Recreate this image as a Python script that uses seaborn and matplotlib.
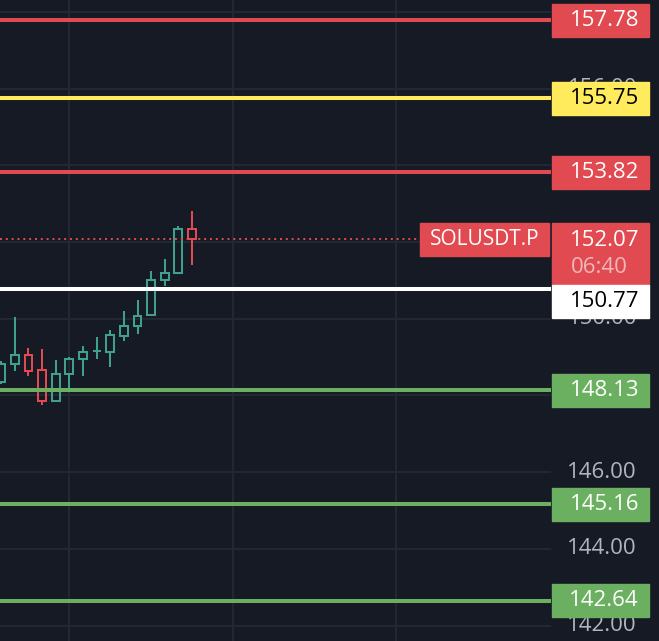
import numpy as np
import pandas as pd
import seaborn as sns
import matplotlib.pyplot as plt
from matplotlib.patches import Rectangle
from matplotlib import transforms

# candles (oldest -> newest)
opens  = [148.36, 148.81, 149.06, 148.66, 147.86, 148.55, 148.94, 149.16, 149.14, 149.54, 149.80, 150.09, 151.00, 151.19, 152.33]
highs  = [148.90, 150.05, 149.24, 149.21, 148.93, 149.00, 149.29, 149.53, 149.71, 150.20, 150.49, 151.25, 151.56, 152.42, 152.81]
lows   = [148.30, 148.64, 148.52, 147.75, 147.84, 148.10, 148.52, 148.95, 148.75, 149.43, 149.60, 150.09, 150.86, 151.19, 151.40]
closes = [148.82, 149.06, 148.64, 147.86, 148.55, 148.94, 149.13, 149.17, 149.57, 149.80, 150.07, 151.00, 151.19, 152.33, 152.07]

level_prices = [157.78, 155.75, 153.82, 150.77, 148.13, 145.16, 142.64]
level_colors = ['#e04a50', '#ffeb5c', '#e04a50', '#ffffff', '#6bb060', '#6bb060', '#6bb060']
level_text   = ['white', 'black', 'white', 'black', 'white', 'white', 'white']

grid_ticks = [142, 144, 146, 148, 150, 152, 154, 156, 158]
label_ticks = [142, 144, 146, 150, 156]   # the ones not fully hidden behind tags
symbol = 'SOLUSDT.P'
last_price = 152.07
countdown = '06:40'

BG = '#161a25'
GRID = '#232733'
UP = '#3fa08e'
DOWN = '#e04a50'

sns.set_theme(style='dark', rc={'axes.facecolor': BG, 'figure.facecolor': BG})
plt.rcParams['font.family'] = ['Open Sans', 'DejaVu Sans']

df = pd.DataFrame({'open': opens, 'high': highs, 'low': lows, 'close': closes})
df['x'] = np.arange(len(df))
df['up'] = df['close'] >= df['open']

ymin, ymax = 141.596, 158.314
W, H = 659, 641
ppu = H / (ymax - ymin)       # pixels per price unit
plot_w = 551

fig = plt.figure(figsize=(W / 100, H / 100), dpi=100)
ax = fig.add_axes([0, 0, plot_w / W, 1])
ax2 = fig.add_axes([plot_w / W, 0, (W - plot_w) / W, 1], sharey=ax)

step = 13.63
ax.set_xlim(-1.2 / step, (plot_w - 1.2) / step)
ax.set_ylim(ymin, ymax)
ax.set_yticks(grid_ticks)
ax.set_xticks([5, 17, 29])
ax.grid(True, color=GRID, lw=1.5)
ax.tick_params(left=False, bottom=False, labelleft=False, labelbottom=False)
for s in ax.spines.values():
    s.set_visible(False)

# candles: hollow bodies + wicks
for _, r in df.iterrows():
    col = UP if r['up'] else DOWN
    top = max(r['open'], r['close'])
    bot = min(r['open'], r['close'])
    h = max(top - bot, 0.01)
    ax.bar(r['x'], h, bottom=bot, width=0.58, fill=False, edgecolor=col, linewidth=1.45, zorder=3)
    ax.vlines(r['x'], top, r['high'], color=col, lw=1.45, zorder=3)
    ax.vlines(r['x'], r['low'], bot, color=col, lw=1.45, zorder=3)

# horizontal levels
for p, c in zip(level_prices, level_colors):
    ax.axhline(p, color=c, lw=2.9, zorder=4)

# last price dotted line + symbol tag
ax.axhline(last_price, xmin=0, xmax=420 / plot_w, color=DOWN, lw=1.4, ls=(0, (1, 2)), zorder=4)
bt = transforms.blended_transform_factory(ax.transAxes, ax.transData)
tag_top = last_price + 16 / ppu
ax.add_patch(Rectangle((420 / plot_w, tag_top - 33 / ppu), 129 / plot_w, 33 / ppu,
                       transform=bt, color=DOWN, zorder=5, clip_on=False))
ax.text(484.5 / plot_w, tag_top - 16.5 / ppu, symbol, transform=bt, color='white',
        fontsize=15, fontweight='medium', ha='center', va='center', zorder=6)

# price scale
ax2.set_xlim(0, W - plot_w)
ax2.set_facecolor(BG)
ax2.tick_params(left=False, bottom=False, labelleft=False, labelbottom=False)
ax2.grid(False)
for s in ax2.spines.values():
    s.set_visible(False)

for t in label_ticks:
    ax2.text(86, t, f'{t:.2f}', color='#b2b5be', fontsize=16, fontweight='medium',
             ha='right', va='center', zorder=2)

bh = 33 / ppu
for p, c, tc in zip(level_prices, level_colors, level_text):
    if p == 150.77:
        continue
    ax2.add_patch(Rectangle((1, p - bh / 2), 97, bh, color=c, zorder=3))
    ax2.text(88, p, f'{p:.2f}', color=tc, fontsize=16, fontweight='medium',
             ha='right', va='center', zorder=4)

# current price box with countdown, white level box pushed below it
red_top = last_price + 16.5 / ppu
red_bot = red_top - 62 / ppu
ax2.add_patch(Rectangle((1, red_bot), 97, red_top - red_bot, color=DOWN, zorder=3))
ax2.text(88, last_price - 1.5 / ppu, f'{last_price:.2f}', color='white', fontsize=16,
         fontweight='medium', ha='right', va='center', zorder=4)
ax2.text(77, last_price - 28.5 / ppu, countdown, color='#f0b8bb', fontsize=16,
         fontweight='medium', ha='right', va='center', zorder=4)
ax2.add_patch(Rectangle((1, red_bot - bh), 97, bh, color='white', zorder=3))
ax2.text(88, red_bot - 16.5 / ppu, '150.77', color='black', fontsize=16,
         fontweight='medium', ha='right', va='center', zorder=4)

fig.savefig('out.png', dpi=100, facecolor=BG)
